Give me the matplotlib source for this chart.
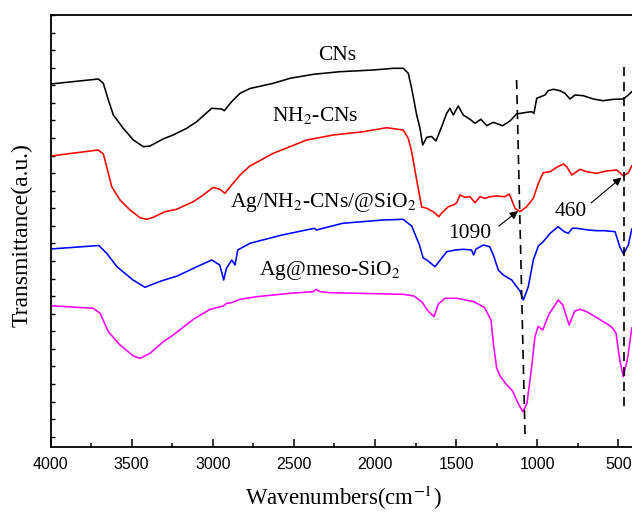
import numpy as np
import matplotlib
matplotlib.use("Agg")
import matplotlib.pyplot as plt

plt.rcParams['mathtext.fontset'] = 'stix'
SERIF = ['Liberation Serif', 'DejaVu Serif']
SANS = ['Liberation Sans', 'DejaVu Sans']

# ---------------- data (wavenumber cm^-1, transmittance a.u.) ----------------
cns_wn = [4000, 3706, 3675, 3644, 3613, 3552, 3490, 3428, 3387, 3307, 3245, 3161, 3099,
          3007, 2945, 2929, 2884, 2832, 2771, 2627, 2524, 2380, 2216, 2011, 1887, 1826,
          1795, 1774, 1743, 1723, 1706, 1681, 1651, 1624, 1589, 1558, 1538, 1517, 1487,
          1456, 1414, 1384, 1347, 1311, 1271, 1213, 1168, 1127, 1065, 1034, 1020, 1003,
          952, 932, 901, 860, 829, 798, 767, 716, 654, 593, 531, 469, 438, 417]
cns_t = [363, 368, 363.7, 347, 332, 318.7, 307, 300.3, 301, 308, 312, 318.7, 325.3,
         338.7, 338, 336.3, 345.3, 353.7, 358.5, 363.7, 368.7, 372.7, 375.3, 377, 378.7, 378.7,
         373.7, 358.7, 332, 319, 302, 309.7, 310.5, 306, 320.3, 333.7, 338.7, 332, 341,
         332, 327.7, 323.7, 327.7, 321.3, 324.7, 321.3, 326, 333, 334.7, 335.3, 333.7, 348.7,
         352, 356.3, 357.7, 356.3, 353.7, 348, 352, 351.3, 348, 346.3, 347.7, 348, 352, 355.3]

nh2_wn = [4000, 3706, 3675, 3654, 3623, 3572, 3510, 3449, 3408, 3367, 3295, 3223, 3120,
          3059, 2997, 2956, 2925, 2884, 2832, 2771, 2627, 2421, 2257, 2072, 1928, 1826,
          1795, 1774, 1743, 1712, 1681, 1641, 1606, 1589, 1548, 1517, 1496, 1476, 1445,
          1414, 1384, 1353, 1322, 1291, 1250, 1199, 1172, 1157, 1137, 1106, 1065, 1024,
          993, 963, 921, 880, 839, 818, 787, 736, 695, 633, 572, 510, 469, 438, 417]
nh2_t = [291, 297, 293, 280, 260.3, 247, 237, 229.3, 227.7, 229.7, 235.3, 237.7, 245.3,
         252, 259.7, 257.7, 253.7, 262, 272, 281, 293.7, 307, 312, 315.3, 319.3, 317,
         308.7, 295.3, 267, 240, 238.7, 235.3, 230.3, 234, 240.3, 242, 244.3, 252, 249.7,
         250.3, 244.3, 250.3, 248.7, 250.3, 251, 250.3, 253, 247, 238.7, 235.3, 240.3, 248.7,
         263.7, 274.3, 275.3, 279.7, 283, 280.3, 272, 277.7, 275.3, 273.7, 276, 277, 271, 274.3, 281]

agnh_wn = [4000, 3703, 3654, 3591, 3492, 3418, 3319, 3219, 3119, 3007, 2957, 2933, 2916,
           2883, 2863, 2846, 2771, 2573, 2374, 2361, 2200, 1951, 1827, 1774, 1726, 1703,
           1680, 1630, 1558, 1504, 1456, 1405, 1392, 1377, 1332, 1293, 1268, 1240, 1209,
           1157, 1119, 1106, 1085, 1055, 1024, 993, 963, 920, 871, 833, 808, 784, 757,
           684, 633, 585, 520, 498, 490, 468, 438, 417]
agnh_t = [198, 201.5, 193.7, 180.3, 167, 159.7, 166, 171, 178.7, 187, 182, 167, 178.7,
          187, 182, 197, 203.7, 212, 218.7, 217, 223.7, 227, 227.7, 221, 202, 189,
          187, 180.3, 195.3, 197, 197.7, 197, 192, 198, 202, 200.3, 191, 177, 172,
          167, 158.7, 156, 147, 160.3, 187, 201, 205.3, 213.7, 220.3, 215.3, 213.7, 218.7, 218.7,
          217, 216.3, 216.3, 215.3, 204, 200, 193, 202, 218]

agsi_wn = [4000, 3737, 3695, 3644, 3572, 3490, 3449, 3387, 3305, 3244, 3120, 3017, 2935,
           2914, 2884, 2832, 2729, 2524, 2380, 2364, 2339, 2277, 1827, 1760, 1712, 1673,
           1636, 1610, 1568, 1496, 1390, 1325, 1285, 1269, 1250, 1229, 1192, 1152, 1118,
           1088, 1063, 1034, 1014, 994, 966, 927, 870, 842, 803, 769, 734, 695, 634,
           560, 538, 514, 493, 469, 443, 417]
agsi_t = [141.3, 138.7, 133.7, 115.3, 102, 91, 88.7, 93.7, 105.3, 112, 127.7, 137.7, 141,
          143.7, 144.3, 147.7, 150.3, 153.7, 155.3, 157.7, 155.3, 154.3, 152.7, 151, 145.3, 136,
          130.3, 143, 148.7, 148.7, 145.3, 139.5, 127, 102, 79, 71, 63, 56, 43.7,
          35.3, 43.7, 80.3, 110.3, 120.7, 117, 133, 147, 142, 122, 136, 137.7, 135.3, 129.5,
          122, 119.5, 113.7, 89, 70.3, 88.5, 119]

series_colors = ['black', 'red', 'blue', '#ff00ff']

labels = [r'CNs', r'NH$_2$-CNs', r'Ag/NH$_2$-CNs/@SiO$_2$', r'Ag@meso-SiO$_2$']
label_wn = [2234, 2366, 2318, 2281]
label_t = [392, 331, 244, 176]

# peak markers
peak_text = ['1090', '460']
peak_text_pos = [(1417, 213.7), (792, 235.3)]
peak_arrow_tail = [(1236, 221), (668, 244)]
peak_arrow_head = [(1118, 236), (480, 269.5)]
dash_1090 = ([1127, 1075], [367, 11])
dash_460 = ([462, 462], [380, 39])

# ---------------- figure ----------------
W, H = 632, 513
fig = plt.figure(figsize=(W / 100, H / 100), dpi=100)
ax_left, ax_right, ax_top, ax_bot = 50.6, 632.0, 15.0, 447.0
ax = fig.add_axes([ax_left / W, (H - ax_bot) / H, (ax_right - ax_left) / W, (ax_bot - ax_top) / H])

for wn, t, c in zip([cns_wn, nh2_wn, agnh_wn, agsi_wn], [cns_t, nh2_t, agnh_t, agsi_t], series_colors):
    ax.plot(wn, t, color=c, lw=1.15, solid_joinstyle='round')

for xs, ys in [dash_1090, dash_460]:
    ax.plot(xs, ys, color='black', lw=1.2, dashes=(5.5, 3.5))

for txt, x, y in zip(labels, label_wn, label_t):
    ax.text(x, y, txt, ha='center', va='center', fontsize=15.5, family=SERIF)

for txt, pos, tail, head in zip(peak_text, peak_text_pos, peak_arrow_tail, peak_arrow_head):
    ax.text(pos[0], pos[1], txt, ha='center', va='center', fontsize=15.5, family=SERIF)
    ax.annotate('', xy=head, xytext=tail,
                arrowprops=dict(arrowstyle='-|>', color='black', lw=0.8,
                                mutation_scale=12, shrinkA=0, shrinkB=0))

x_max = 4000 - (ax_right - ax_left) * 500 / 81.1
ax.set_xlim(4000, x_max)
ax.set_ylim(0, ax_bot - ax_top)

ax.set_xticks([4000, 3500, 3000, 2500, 2000, 1500, 1000, 500])
ax.set_xticks(np.arange(3750, 400, -500), minor=True)
ax.set_yticks(np.arange(ax_bot - ax_top, 0, -17.57))
ax.set_yticklabels([])
ax.tick_params(axis='x', which='major', direction='in', length=6, width=1.1, pad=7,
               labelsize=11.5)
ax.tick_params(axis='x', which='minor', direction='in', length=3, width=1.1)
ax.tick_params(axis='y', which='major', direction='in', length=3, width=1.0)
for lab in ax.get_xticklabels():
    lab.set_family(SANS)

for s in ['left', 'bottom', 'top']:
    ax.spines[s].set_linewidth(1.3)
ax.spines['right'].set_visible(False)

ax.set_xlabel(r'Wavenumbers(cm$^{-1}$)', fontsize=16.5, family=SERIF)
ax.xaxis.set_label_coords(0.503, -0.085)
ax.set_ylabel('Transmittance(a.u.)', fontsize=17, family=SERIF)
ax.yaxis.set_label_coords(-0.031, 0.49)

fig.savefig('out.png', dpi=100)
